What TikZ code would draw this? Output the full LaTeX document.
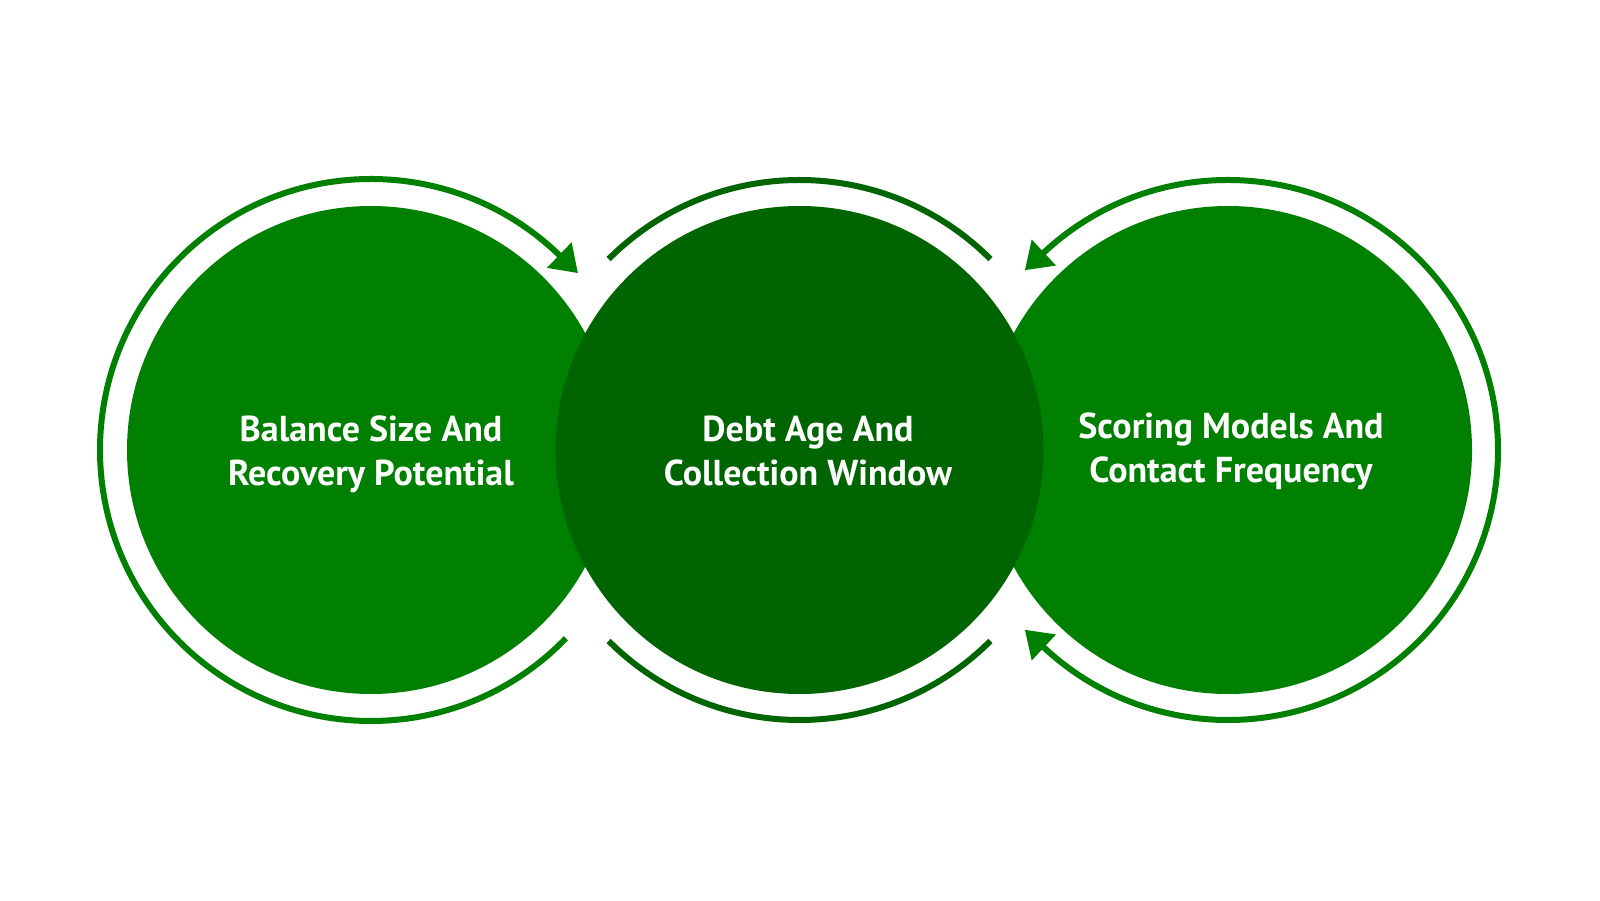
\documentclass[tikz,border=0pt]{standalone}
\usepackage{tikz}
\usepackage{xcolor}
\usepackage{fontspec}
\usetikzlibrary{arrows.meta}
\setmainfont{PT Sans}
\definecolor{sidegreen}{RGB}{0,128,0}
\definecolor{darkgreen}{RGB}{0,100,0}

\begin{document}
\begin{tikzpicture}[x=0.5pt,y=0.5pt,
    disc/.style={circle,fill=sidegreen,minimum size=244pt,inner sep=0pt},
    caption/.style={text=white,align=center,font=\bfseries\fontsize{18}{22}\selectfont},
    ring/.style={sidegreen,line width=3pt},
    endtip/.style={-{Triangle[length=13pt,width=17pt]}},
    bothtips/.style={{Triangle[length=13pt,width=17pt]}-{Triangle[length=13pt,width=17pt]}}]
                % Background
                \useasboundingbox[fill=white] (0,0) rectangle (1600,900);
                
                % Circles
                \node[disc] (balance) at (371,450) {};
                \node[disc] (scoring) at (1228,450) {};
                \node[disc,fill=darkgreen] (debt) at (799.5,450) {};
                
                % Texts
                \node[caption] (balance-text) at (371,446) {Balance Size And\\Recovery Potential};
                \node[caption] (debt-text) at (808,449) {Debt Age And\\Collection Window};
                \node[caption] (scoring-text) at (1231,449) {Scoring Models And\\Contact Frequency};
                
                % Arcs round the circles
                \draw[ring,endtip] ([shift={(-44:271)}]balance.center) arc[start angle=-44,end angle=-314,radius=271] -- ++(-44:26);
                \draw[ring,darkgreen] ([shift={(135:270)}]debt.center) arc[start angle=135,end angle=45,radius=270];
                \draw[ring,darkgreen] ([shift={(-135:270)}]debt.center) arc[start angle=-135,end angle=-45,radius=270];
                \draw[ring,bothtips] ([shift={(133:270)},shift={(223:26)}]scoring.center) -- ++(43:26)
                    arc[start angle=133,end angle=-133,radius=270] -- ++(137:26);
            \end{tikzpicture}
\end{document}
